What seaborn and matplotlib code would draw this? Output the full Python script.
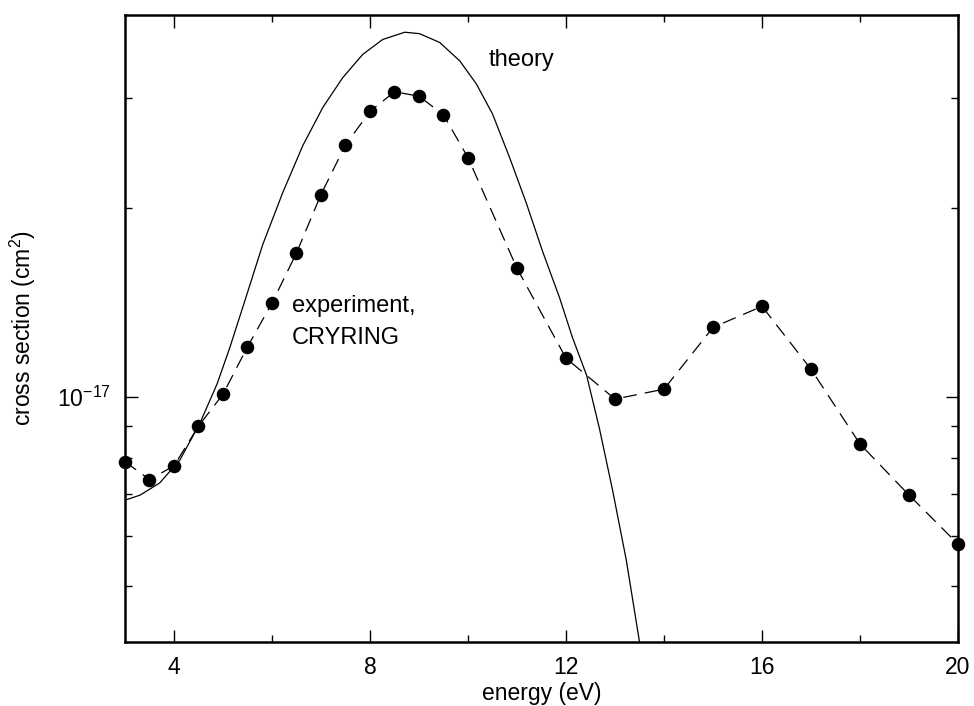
import numpy as np
import pandas as pd
import matplotlib
matplotlib.use("Agg")
import matplotlib.pyplot as plt
import matplotlib.ticker as mticker
import seaborn as sns

# experiment (CRYRING)
exp_energy = [3, 3.5, 4, 4.5, 5, 5.5, 6, 6.5, 7, 7.5, 8, 8.5, 9, 9.5, 10,
              11, 12, 13, 14, 15, 16, 17, 18, 19, 20]
exp_sigma = [7.89e-18, 7.39e-18, 7.77e-18, 8.99e-18, 1.011e-17, 1.203e-17,
             1.413e-17, 1.698e-17, 2.105e-17, 2.525e-17, 2.856e-17, 3.07e-17,
             3.02e-17, 2.82e-17, 2.41e-17, 1.605e-17, 1.154e-17, 0.993e-17,
             1.030e-17, 1.292e-17, 1.396e-17, 1.108e-17, 0.842e-17, 0.698e-17,
             0.583e-17]

# theory
th_energy = [3.00, 3.31, 3.71, 4.12, 4.53, 4.88, 5.14, 5.49, 5.81, 6.22, 6.63,
             7.04, 7.44, 7.85, 8.26, 8.71, 9.01, 9.42, 9.83, 10.17, 10.50,
             10.85, 11.19, 11.52, 11.87, 12.13, 12.42, 12.68, 12.95, 13.23,
             13.50, 13.74]
th_sigma = [6.85e-18, 6.98e-18, 7.30e-18, 7.94e-18, 9.09e-18, 1.05e-17,
            1.20e-17, 1.46e-17, 1.75e-17, 2.12e-17, 2.52e-17, 2.90e-17,
            3.23e-17, 3.52e-17, 3.72e-17, 3.82e-17, 3.80e-17, 3.68e-17,
            3.44e-17, 3.16e-17, 2.83e-17, 2.41e-17, 2.04e-17, 1.71e-17,
            1.44e-17, 1.246e-17, 1.084e-17, 0.893e-17, 0.711e-17, 0.550e-17,
            0.407e-17, 0.306e-17]

x_ticks = [4, 8, 12, 16, 20]
x_minor = [6, 10, 14, 18]
y_major = [1e-17]
y_major_labels = [r"$10^{-17}$"]
y_minor = [5e-18, 6e-18, 7e-18, 8e-18, 9e-18, 2e-17, 3e-17]

sns.set_style("ticks")
plt.rcParams["font.family"] = ["Liberation Sans", "DejaVu Sans"]
plt.rcParams["mathtext.fontset"] = "custom"
plt.rcParams["mathtext.rm"] = "Liberation Sans"
plt.rcParams["mathtext.it"] = "Liberation Sans"
plt.rcParams["text.color"] = "black"
plt.rcParams["axes.labelcolor"] = "black"

fig = plt.figure(figsize=(9.74, 7.06), dpi=100)
ax = fig.add_axes([0.1283, 0.0907, 0.8553, 0.8881])

df_th = pd.DataFrame({"energy": th_energy, "sigma": th_sigma})
df_ex = pd.DataFrame({"energy": exp_energy, "sigma": exp_sigma})

sns.lineplot(data=df_th, x="energy", y="sigma", ax=ax, color="black",
             linewidth=0.9, sort=False, estimator=None)
sns.lineplot(data=df_ex, x="energy", y="sigma", ax=ax, color="black",
             linewidth=0.9, sort=False, estimator=None, dashes=False)
ax.lines[-1].set_dashes([11, 6.5])
sns.scatterplot(data=df_ex, x="energy", y="sigma", ax=ax, color="black",
                s=95, edgecolor="black", linewidth=0, zorder=5, clip_on=False)

ax.set_yscale("log")
ax.set_xlim(3, 20)
ax.set_ylim(4.07e-18, 4.07e-17)

ax.xaxis.set_major_locator(mticker.FixedLocator(x_ticks))
ax.xaxis.set_minor_locator(mticker.FixedLocator(x_minor))
ax.set_xticklabels([str(t) for t in x_ticks])
ax.yaxis.set_major_locator(mticker.FixedLocator(y_major))
ax.yaxis.set_major_formatter(mticker.FixedFormatter(y_major_labels))
ax.yaxis.set_minor_locator(mticker.FixedLocator(y_minor))
ax.yaxis.set_minor_formatter(mticker.NullFormatter())

ax.tick_params(which="both", direction="in", top=True, right=True,
               width=1, color="black", labelsize=16.5, labelcolor="black")
ax.tick_params(which="major", length=9, pad=10)
ax.tick_params(which="minor", length=5)
for sp in ax.spines.values():
    sp.set_linewidth(1.8)
    sp.set_color("black")

ax.set_xlabel("energy (eV)", fontsize=16.5, labelpad=2, color="black")
ax.set_ylabel(r"cross section (cm$^2$)", fontsize=16.5, labelpad=14,
              color="black")

ax.text(10.42, 3.45e-17, "theory", fontsize=17, ha="left", va="center",
        color="black")
ax.text(6.40, 1.40e-17, "experiment,", fontsize=17, ha="left", va="center",
        color="black")
ax.text(6.40, 1.242e-17, "CRYRING", fontsize=17, ha="left", va="center",
        color="black")

fig.savefig("out.png", dpi=100)
